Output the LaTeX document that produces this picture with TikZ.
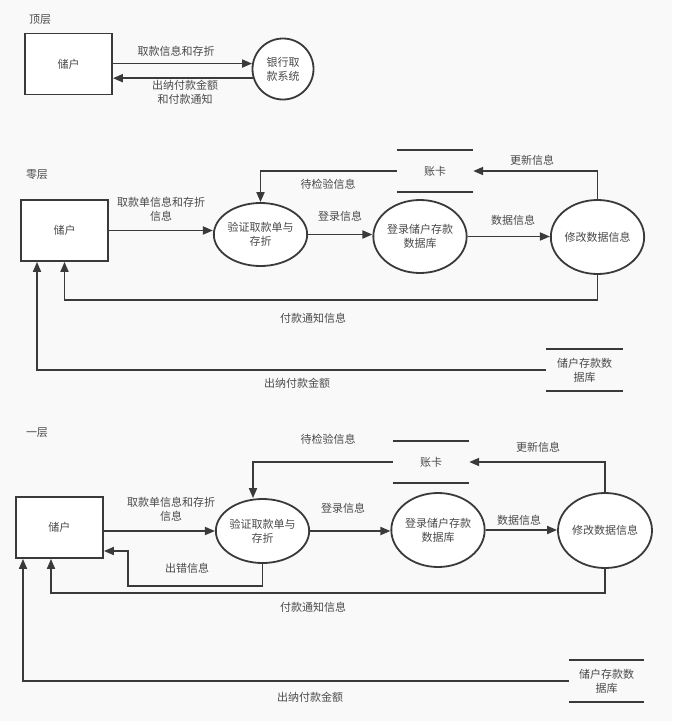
\documentclass[tikz,border=0pt]{standalone}
\usepackage{fontspec}
\newfontfamily\cjk{Noto Sans CJK SC}
\usetikzlibrary{arrows.meta,shapes.geometric,calc}
\definecolor{bgc}{HTML}{F9F9F9}
\definecolor{ln}{HTML}{3A3A3A}
\definecolor{tx}{HTML}{4A4A4A}
\tikzset{
  txt/.style={font=\cjk\fontsize{11}{14}\selectfont, text=tx, align=center, inner sep=0pt},
  ent/.style={draw=ln, line width=1.8pt, fill=white, rectangle, minimum width=87pt, minimum height=61pt, txt},
  proc/.style={draw=ln, line width=1.8pt, fill=white, ellipse, inner sep=0pt, txt},
  store/.style={rectangle, minimum width=76pt, minimum height=42pt, txt},
  arr/.style={draw=ln, line width=1.8pt, -{Triangle[length=10pt,width=8pt]}},
  sline/.style={draw=ln, line width=1.8pt},
}
\begin{document}
\begin{tikzpicture}[x=1pt,y=-1pt]
\useasboundingbox (0,0) rectangle (693,721);
\fill[white] (0,0) rectangle (693,721);
\fill[bgc] (0,0) rectangle (672,721);

% ---------- top level ----------
\node[txt] (t0) at (40,20) {顶层};
\node[ent] (tb) at (68.5,64) {储户};
\node[draw=ln, line width=1.8pt, fill=white, circle, minimum size=61pt, inner sep=0pt, txt] (tc) at (283,69) {银行取\\款系统};
\draw[arr] (tb.east |- tc.170) -- (tc.170);
\draw[arr] (tc.197) -- (tb.east |- tc.197);
\node[txt] (tl1) at (176,51) {取款信息和存折};
\node[txt] (tl2) at (185,92) {出纳付款金额\\和付款通知};

% ---------- zero level ----------
\node[txt] (z0) at (37,175) {零层};
\node[ent] (zb) at (64.5,230.5) {储户};
\node[proc, minimum width=87pt, minimum height=63pt] (ze1) at (260.5,234.5) {验证取款单与\\存折};
\node[store] (zk) at (435,171) {账卡};
\draw[sline] (zk.north west) -- (zk.north east);
\draw[sline] (zk.south west) -- (zk.south east);
\node[proc, minimum width=90pt, minimum height=73pt] (ze2) at (420,236.5) {登录储户存款\\数据库};
\node[proc, minimum width=91pt, minimum height=74pt] (ze3) at (597.5,237) {修改数据信息};
\node[store, minimum width=77pt] (zs) at (584.5,370) {储户存款数\\据库};
\draw[sline] (zs.north west) -- (zs.north east);
\draw[sline] (zs.south west) -- (zs.south east);

\draw[arr] (zb.east) -- (zb.east -| ze1.west);
\draw[arr] (ze1.east) -- (ze1.east -| ze2.west);
\draw[arr] (ze2.east) -- (ze2.east -| ze3.west);
\draw[arr] (zk.west) -| (ze1.north);
\draw[arr] (ze3.north) |- (zk.east);
\coordinate (z1) at (zb.south |- 0,300);
\draw[arr] (ze3.south) |- (z1) -- (zb.south);
\coordinate (zL) at ([xshift=-27.5pt]zb.south);
\draw[arr] (zs.west) -- (zL |- zs.west) -- (zL);

\node[txt] at (161,209) {取款单信息和存折\\信息};
\node[txt] at (328,184) {待检验信息};
\node[txt] at (340,216) {登录信息};
\node[txt] at (513,220) {数据信息};
\node[txt] at (532,160) {更新信息};
\node[txt] at (313,318) {付款通知信息};
\node[txt] at (297,383) {出纳付款金额};

% ---------- first level ----------
\node[txt] (o0) at (37,433) {一层};
\node[ent] (ob) at (59.5,527.5) {储户};
\node[proc, minimum width=89pt, minimum height=64pt] (oe1) at (262.5,531) {验证取款单与\\存折};
\node[store] (ok) at (431,462) {账卡};
\draw[sline] (ok.north west) -- (ok.north east);
\draw[sline] (ok.south west) -- (ok.south east);
\node[proc, minimum width=90pt, minimum height=74pt] (oe2) at (438,530) {登录储户存款\\数据库};
\node[proc, minimum width=94pt, minimum height=75pt] (oe3) at (605,530.5) {修改数据信息};
\node[store, minimum width=75pt] (os) at (606.5,681) {储户存款数\\据库};
\draw[sline] (os.north west) -- (os.north east);
\draw[sline] (os.south west) -- (os.south east);

\draw[arr] (ob.east |- oe1.west) -- (oe1.west);
\draw[arr] (oe1.east) -- (oe1.east -| oe2.west);
\draw[arr] (oe2.east) -- (oe2.east -| oe3.west);
\coordinate (o1t) at ([xshift=-9.5pt]oe1.north);
\draw[arr] (ok.west) -| (o1t);
\draw[arr] (oe3.north) |- (ok.east);
\coordinate (oe1b) at (oe1.south |- 0,586);
\coordinate (oe2b) at (128,586);
\coordinate (oe3b) at (128,551);
\draw[arr] (oe1.south) -- (oe1b) -- (oe2b) -- (oe3b) -- (oe3b -| ob.east);
\coordinate (on1) at (51,593);
\draw[arr] (oe3.south) |- (on1) -- (on1 |- ob.south);
\coordinate (on2) at (23,681);
\draw[arr] (os.west) -- (os.west -| on2) -- (on2 |- ob.south);

\node[txt] at (171,509) {取款单信息和存折\\信息};
\node[txt] at (328,439) {待检验信息};
\node[txt] at (343,508) {登录信息};
\node[txt] at (519,520) {数据信息};
\node[txt] at (538,447) {更新信息};
\node[txt] at (187,568) {出错信息};
\node[txt] at (313,607) {付款通知信息};
\node[txt] at (310,697) {出纳付款金额};
\end{tikzpicture}
\end{document}
